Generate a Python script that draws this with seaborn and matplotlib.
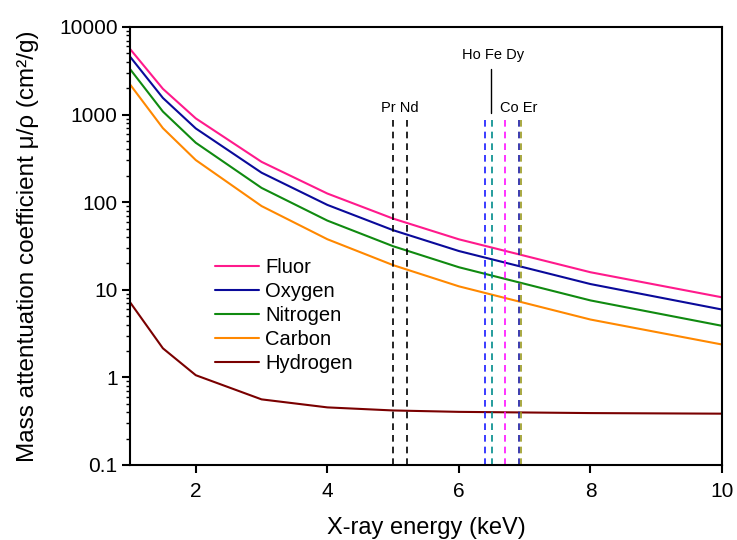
import numpy as np
import pandas as pd
import matplotlib
matplotlib.use('Agg')
import matplotlib.pyplot as plt
import seaborn as sns

# photon energies (keV) and mass attenuation coefficients (cm2/g)
energy = [1, 1.5, 2, 3, 4, 5, 6, 8, 10]
fluor = [5619, 1969, 904.7, 288.8, 125.6, 64.96, 37.69, 15.86, 8.205]
oxygen = [4590, 1549, 694.9, 217.1, 93.15, 47.90, 27.70, 11.63, 5.952]
nitrogen = [3311, 1083, 476.9, 145.6, 61.66, 31.44, 18.09, 7.562, 3.879]
carbon = [2211, 700.2, 302.6, 90.33, 37.78, 19.12, 10.95, 4.576, 2.373]
hydrogen = [7.217, 2.148, 1.059, 0.5612, 0.4546, 0.4193, 0.4042, 0.3914, 0.3854]

elements = ['Fluor', 'Oxygen', 'Nitrogen', 'Carbon', 'Hydrogen']
colors = ['#ff1a8c', '#0a0a9a', '#108a10', '#ff8800', '#7a0000']

# emission lines (keV)
line_names = ['Pr', 'Nd', 'Fe', 'Dy', 'Ho', 'Co', 'Er']
line_energy = [5.00, 5.21, 6.40, 6.50, 6.70, 6.91, 6.95]
line_colors = ['black', 'black', '#1a1aff', '#008b8b', '#ff10ff', '#1a1aa0', '#9a9a20']

df = pd.DataFrame({
    'energy': energy * 5,
    'mu': fluor + oxygen + nitrogen + carbon + hydrogen,
    'element': np.repeat(elements, len(energy)),
})

sns.set_style('ticks', {'text.color': 'black', 'axes.labelcolor': 'black',
                        'xtick.color': 'black', 'ytick.color': 'black',
                        'axes.edgecolor': 'black'})
plt.rcParams['font.family'] = ['Liberation Sans', 'DejaVu Sans']

fig = plt.figure(figsize=(7.37, 5.4), dpi=100)
ax = fig.add_axes([0.1764, 0.1389, 0.8033, 0.8111])

sns.lineplot(data=df, x='energy', y='mu', hue='element', hue_order=elements,
             palette=colors, linewidth=1.5, ax=ax)

ax.vlines(line_energy, 0.1, 900, colors=line_colors, linestyles=(0, (4, 3)),
          linewidth=1.2)

ax.text(5.1, 1190, 'Pr Nd', ha='center', va='center', fontsize=10.5)
ax.text(6.91, 1190, 'Co Er', ha='center', va='center', fontsize=10.5)
ax.text(6.52, 4790, 'Ho Fe Dy', ha='center', va='center', fontsize=10.5)
ax.plot([6.49, 6.49], [1040, 3300], color='black', linewidth=1)

ax.set_yscale('log')
ax.set_xlim(1, 10)
ax.set_ylim(0.1, 10000)
ax.set_xticks([2, 4, 6, 8, 10])
ax.set_yticks([0.1, 1, 10, 100, 1000, 10000])
ax.set_yticklabels(['0.1', '1', '10', '100', '1000', '10000'])
ax.tick_params(axis='both', which='major', labelsize=15, length=6, width=1.5,
               direction='out', pad=3)
ax.tick_params(axis='x', which='major', pad=6)
ax.tick_params(axis='y', which='minor', length=3, width=1)
for s in ax.spines.values():
    s.set_linewidth(1.5)

ax.set_xlabel('X-ray energy (keV)', fontsize=17, labelpad=12)
ax.set_ylabel('Mass attentuation coefficient \u03bc/\u03c1 (cm\u00b2/g)', fontsize=17.5,
              labelpad=14)

ax.legend(loc='center left', bbox_to_anchor=(0.1436, 0.341), frameon=False,
          borderpad=0, borderaxespad=0,
          fontsize=14.5, handlelength=2.19, handletextpad=0.3, labelspacing=0.25)

fig.savefig('out.png', dpi=100)
